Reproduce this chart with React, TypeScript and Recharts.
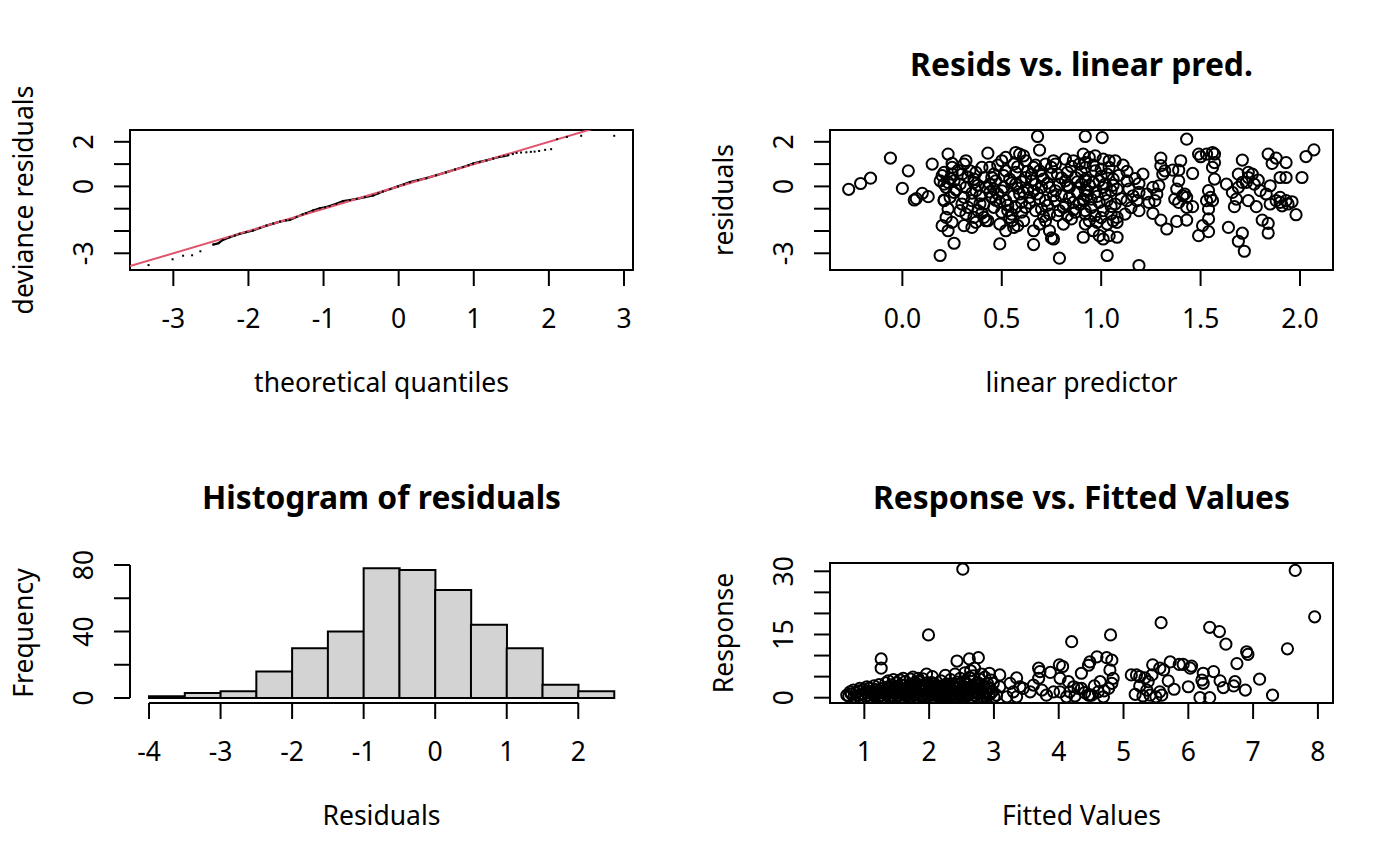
import React from "react";
import {
  Bar, ComposedChart, Line, ReferenceArea, ReferenceLine, Scatter, XAxis, YAxis,
} from "recharts";

// ---------- datos ----------

// QQ: cuantiles teóricos frente a residuos de desviación
const qqTheo = [
  -3.33, -3.01, -2.87, -2.75, -2.64, -2.47, -2.4, -2.34, -2.25, -2.18, -2.12, -2.03, -1.94, -1.85,
  -1.76, -1.67, -1.58, -1.5, -1.45, -1.36, -1.28, -1.23, -1.14, -1.05, -0.98, -0.92, -0.83, -0.74,
  -0.65, -0.56, -0.45, -0.34, -0.27, -0.21, -0.11, -0.01, 0.07, 0.15, 0.26, 0.37, 0.5, 0.63, 0.75,
  0.86, 0.93, 0.99, 1.08, 1.17, 1.26, 1.34, 1.4, 1.46, 1.52, 1.57, 1.63, 1.7, 1.76, 1.81, 1.87,
  1.95, 2.03, 2.11, 2.24, 2.43, 2.87,
];
const qqResid = [
  -3.53, -3.27, -3.11, -3.09, -2.91, -2.61, -2.55, -2.4, -2.28, -2.2, -2.13, -2.05, -1.98, -1.87,
  -1.76, -1.67, -1.58, -1.52, -1.5, -1.37, -1.26, -1.2, -1.08, -0.98, -0.94, -0.88, -0.78, -0.66,
  -0.61, -0.56, -0.48, -0.41, -0.31, -0.23, -0.12, 0.0, 0.09, 0.19, 0.28, 0.37, 0.5, 0.63, 0.76,
  0.87, 0.95, 1.02, 1.1, 1.17, 1.25, 1.32, 1.36, 1.4, 1.45, 1.5, 1.52, 1.53, 1.55, 1.56, 1.59,
  1.64, 1.67, 2.12, 2.22, 2.27, 2.27,
];
const qqRefIntercept = 0;
const qqRefSlope = 1;

// residuos frente a predictor lineal: [predictor, residuo]
const residPts: [number, number][] = [
  [-0.27, -0.13], [-0.21, 0.13], [-0.16, 0.37], [-0.06, 1.27], [0.0, -0.09], [0.03, 0.7], [0.06, -0.61],
  [0.07, -0.55], [0.1, -0.31], [0.13, -0.46], [0.15, 1.0],
  [0.19, -3.1], [0.23, 1.45], [0.26, -2.55], [0.2, -1.76], [0.23, -1.99], [0.21, -0.61], [0.2, 0.48],
  [0.21, 0.63], [0.25, 0.85], [0.25, 0.55], [0.23, 0.18], [0.26, 0.25], [0.22, -0.04], [0.21, -0.64],
  [0.24, -0.49], [0.23, -1.01], [0.22, -1.39], [0.25, -1.61], [0.25, 1.03], [0.19, 0.25], [0.21, 0.1],
  [0.26, -0.27], [0.24, 0.35], [0.27, -0.15], [0.28, 0.72],
  [0.31, 1.0], [0.32, 1.15], [0.3, 0.55], [0.34, 0.7], [0.37, 0.63], [0.29, 0.1], [0.32, -0.04],
  [0.36, 0.18], [0.37, -0.19], [0.31, -0.49], [0.35, -0.64], [0.39, -0.42], [0.29, -1.09], [0.32, -1.24],
  [0.36, -1.39], [0.38, -1.09], [0.31, -1.76], [0.35, -1.84], [0.37, -1.61], [0.41, -1.39], [0.42, -1.54],
  [0.41, -0.79], [0.42, -0.04], [0.41, 0.4], [0.33, -0.94], [0.36, 0.33], [0.4, 0.85], [0.3, -0.79],
  [0.43, 1.49], [0.33, 0.42], [0.35, -0.3], [0.38, 0.05], [0.39, -0.78], [0.4, -1.2],
  [0.44, 0.85], [0.46, 0.55], [0.5, 1.15], [0.52, 1.3], [0.56, 1.0], [0.57, 1.52], [0.59, 1.45],
  [0.44, 0.1], [0.47, 0.25], [0.51, -0.04], [0.54, 0.33], [0.57, 0.1], [0.45, -0.49], [0.48, -0.34],
  [0.52, -0.64], [0.56, -0.42], [0.59, -0.34], [0.46, -0.94], [0.5, -1.16], [0.53, -1.09], [0.57, -0.94],
  [0.43, -1.54], [0.49, -1.69], [0.55, -1.54], [0.56, -1.84], [0.58, -1.76], [0.54, -1.39], [0.52, -1.99],
  [0.46, -0.12], [0.52, 0.7], [0.57, 0.63], [0.49, -0.72], [0.49, -2.58],
  [0.44, -0.25], [0.45, 0.4], [0.47, -0.62], [0.48, 0.95], [0.5, -0.2], [0.51, 0.48], [0.53, -0.85],
  [0.55, 0.15], [0.55, -1.25], [0.58, -0.08], [0.58, 0.88], [0.6, 0.2], [0.6, -1.15],
  [0.61, 1.37], [0.62, 1.15], [0.66, 0.85], [0.69, 0.7], [0.72, 1.0], [0.76, 1.15], [0.62, 0.4],
  [0.65, 0.55], [0.67, 0.1], [0.71, 0.33], [0.74, -0.04], [0.61, -0.27], [0.64, -0.49], [0.68, -0.34],
  [0.72, -0.64], [0.76, -0.42], [0.62, -0.94], [0.67, -1.09], [0.7, -1.01], [0.74, -1.24], [0.61, -1.54],
  [0.66, -1.99], [0.69, -1.69], [0.74, -1.99], [0.76, -2.36], [0.63, -0.12], [0.7, -0.04], [0.6, -0.72],
  [0.75, 0.55], [0.65, 0.25], [0.72, -1.54], [0.68, 2.24], [0.69, 1.63], [0.66, -2.61], [0.75, -2.31],
  [0.63, 0.68], [0.64, -0.75], [0.66, -0.2], [0.67, 0.95], [0.69, -0.55], [0.7, 0.48], [0.71, -1.35],
  [0.73, 0.15], [0.73, -0.85], [0.75, 0.85],
  [0.77, 1.0], [0.82, 1.22], [0.86, 1.15], [0.89, 1.0], [0.92, 1.07], [0.78, 0.55], [0.83, 0.63],
  [0.87, 0.4], [0.92, 0.25], [0.79, 0.1], [0.84, -0.04], [0.88, -0.27], [0.92, -0.19], [0.77, -0.64],
  [0.82, -0.79], [0.86, -0.72], [0.91, -0.57], [0.79, -1.09], [0.83, -1.31], [0.87, -1.16], [0.92, -1.24],
  [0.81, -1.69], [0.92, -1.69], [0.82, 0.25], [0.9, 0.1], [0.85, -1.46], [0.8, -0.42], [0.79, -3.22],
  [0.92, 2.24], [0.91, -2.28],
  [0.77, -0.2], [0.78, -1.3], [0.8, 0.38], [0.81, -0.95], [0.83, 0.05], [0.84, -0.5], [0.85, 0.9],
  [0.86, -1.05], [0.88, 0.2], [0.89, -0.8], [0.9, 0.65],
  [0.91, 1.45], [0.94, 1.3], [0.97, 1.37], [1.01, 1.22], [1.04, 1.15], [1.07, 1.15], [0.92, 0.85],
  [0.97, 0.7], [1.0, 0.78], [1.03, 0.55], [0.92, 0.33], [0.96, 0.18], [0.99, 0.25], [1.02, 0.1],
  [1.06, 0.33], [0.93, -0.19], [0.97, -0.27], [1.01, -0.04], [1.05, -0.19], [1.08, -0.12], [0.91, -0.64],
  [0.95, -0.57], [0.99, -0.72], [1.03, -0.64], [1.07, -0.79], [0.92, -1.09], [0.97, -1.31], [1.01, -1.09],
  [1.05, -1.24], [0.94, -1.54], [0.98, -1.61], [1.03, -1.69], [1.06, -1.54], [0.96, -1.99], [0.99, -2.21],
  [1.04, -2.21], [1.08, -2.28], [1.01, -2.36], [1.005, 2.19], [1.03, -3.1],
  [0.93, -0.4], [0.94, 0.05], [0.95, -0.95], [0.96, 0.95], [0.98, -0.45], [1.0, 0.45], [1.0, -1.4],
  [1.02, -0.35], [1.04, 0.85], [1.05, -0.9], [1.06, 0.05], [1.09, 0.5], [1.1, -0.55], [1.11, 0.95],
  [1.43, 2.12], [1.19, -3.55], [1.13, 0.67], [1.13, 0.25], [1.14, -0.12], [1.13, -0.64], [1.12, -1.24],
  [1.08, -1.39], [1.08, -1.61], [1.16, -0.42], [1.21, 0.55], [1.19, 0.13], [1.19, -0.27], [1.18, -0.64],
  [1.19, -1.09], [1.23, -0.34], [1.24, -0.72], [1.26, -0.04], [1.3, 1.27], [1.3, 0.93], [1.31, 0.55],
  [1.29, 0.03], [1.28, -0.34], [1.27, -0.64], [1.26, -1.21], [1.3, -1.51], [1.33, -1.91], [1.32, 0.7],
  [1.36, 0.73], [1.39, 0.73], [1.4, 1.15], [1.39, 0.25], [1.38, -0.12], [1.41, -0.42], [1.39, -0.72],
  [1.37, -0.57], [1.43, -0.94], [1.43, -1.51], [1.38, -1.57], [1.43, -0.49], [1.42, -0.34],
  [1.15, -0.95], [1.17, 0.35],
  [1.46, 0.58], [1.46, -0.91], [1.49, 1.45], [1.5, 1.33], [1.53, 1.45], [1.56, 1.52], [1.57, 1.45],
  [1.57, 1.07], [1.56, 0.85], [1.57, 0.33], [1.54, -0.19], [1.55, -0.49], [1.53, -0.64], [1.56, -0.64],
  [1.54, -1.01], [1.54, -1.46], [1.51, -1.76], [1.54, -2.03], [1.49, -2.21], [1.63, 0.1], [1.66, -0.27],
  [1.68, -0.57], [1.69, -0.04], [1.64, -1.84], [1.67, -0.91], [1.69, 0.55], [1.69, -2.46],
  [1.71, 1.18], [1.71, 0.18], [1.73, 0.18], [1.74, 0.63], [1.74, 0.4], [1.76, 0.55], [1.74, -0.64],
  [1.77, 0.1], [1.78, -0.91], [1.79, 0.28], [1.8, -0.19], [1.71, -2.1], [1.72, -2.91], [1.81, -1.51],
  [1.83, -0.34], [1.84, 1.45], [1.84, -1.66], [1.84, -2.09], [1.85, 0.03], [1.85, -0.79], [1.86, 1.03],
  [1.88, 1.27], [1.88, -0.64], [1.9, 0.4], [1.9, -0.72], [1.9, -0.49], [1.91, -0.87], [1.93, 1.07],
  [1.93, 0.4], [1.93, -0.64], [1.94, -0.79], [1.96, -0.69], [1.98, -1.27], [2.01, 0.4], [2.03, 1.34],
  [2.07, 1.64],
];

// histograma de residuos (intervalos de 0.5)
const histMids = [-3.75, -3.25, -2.75, -2.25, -1.75, -1.25, -0.75, -0.25, 0.25, 0.75, 1.25, 1.75, 2.25];
const histCounts = [1, 3, 4, 16, 30, 40, 78, 77, 65, 44, 30, 8, 4];

// respuesta frente a valores ajustados: [ajustado, respuesta]
const respPts: [number, number][] = [
  [0.73, 0.6], [0.76, 0.4], [0.78, 1.4], [0.8, 0.9], [0.83, 1.8], [0.84, 0.2], [0.87, 1.1], [0.9, 0.5],
  [0.92, 1.6], [0.93, 2.2], [0.95, 0.1], [0.97, 0.8], [0.99, 1.9],
  [1.02, 0.3], [1.04, 2.6], [1.04, 1.2], [1.06, 0.6], [1.08, 2.3], [1.1, 0.1], [1.11, 1.5], [1.13, 0.8],
  [1.15, 2.8], [1.16, 0.3], [1.18, 1.9], [1.2, 1.0], [1.22, 0.2], [1.23, 3.1], [1.25, 1.4], [1.26, 7.0],
  [1.26, 9.2], [1.27, 0.6], [1.29, 2.2], [1.3, 0.1], [1.21, 1.5], [1.24, 0.5], [1.28, 1.2],
  [1.32, 1.7], [1.33, 3.5], [1.35, 0.8], [1.37, 4.0], [1.37, 2.6], [1.38, 0.2], [1.4, 1.3], [1.42, 3.0],
  [1.43, 0.6], [1.45, 2.0], [1.45, 4.3], [1.47, 0.1], [1.48, 1.1], [1.5, 3.6], [1.52, 2.4], [1.53, 0.5],
  [1.55, 4.2], [1.55, 1.6], [1.57, 3.0], [1.58, 0.2], [1.6, 2.1], [1.6, 4.6],
  [1.34, 2.1], [1.36, 1.0], [1.41, 0.5], [1.44, 1.4], [1.49, 2.7], [1.51, 0.4], [1.54, 1.1], [1.59, 1.4],
  [1.62, 0.9], [1.63, 3.8], [1.65, 1.5], [1.67, 0.3], [1.68, 2.7], [1.7, 1.2], [1.71, 4.4], [1.72, 0.1],
  [1.73, 3.3], [1.75, 1.9], [1.75, 4.9], [1.77, 0.7], [1.78, 2.5], [1.8, 0.2], [1.82, 1.4], [1.83, 4.6],
  [1.83, 3.9], [1.85, 2.2], [1.87, 0.5], [1.88, 1.7], [1.9, 3.0], [1.9, 4.5],
  [1.61, 2.9], [1.64, 0.6], [1.66, 2.2], [1.69, 0.8], [1.74, 1.4], [1.76, 2.9], [1.79, 1.0], [1.81, 3.3],
  [1.84, 0.9], [1.86, 2.6], [1.89, 0.3],
  [1.92, 0.1], [1.93, 2.4], [1.95, 1.0], [1.96, 5.6], [1.97, 3.5], [1.98, 0.4], [1.99, 14.9], [2.0, 1.9],
  [2.02, 2.8], [2.03, 0.8], [2.05, 1.4], [2.05, 5.0], [2.07, 0.1], [2.08, 3.2], [2.1, 2.0], [2.12, 0.6],
  [2.13, 1.3], [2.15, 2.7], [2.17, 0.2], [2.18, 4.0], [2.2, 1.6],
  [1.91, 1.8], [1.94, 3.0], [1.99, 1.2], [2.01, 2.4], [2.04, 3.6], [2.06, 0.6], [2.09, 1.6], [2.11, 2.9],
  [2.14, 0.4], [2.16, 1.9], [2.19, 2.6],
  [2.22, 0.9], [2.23, 2.4], [2.25, 0.3], [2.25, 5.3], [2.27, 3.3], [2.28, 1.7], [2.3, 0.6], [2.32, 2.2],
  [2.33, 4.3], [2.35, 1.1], [2.37, 0.1], [2.38, 2.9], [2.4, 1.5], [2.4, 5.6], [2.42, 0.4], [2.43, 3.7],
  [2.43, 8.7], [2.45, 2.1], [2.47, 0.8], [2.48, 4.6],
  [2.21, 0.3], [2.24, 1.3], [2.26, 2.0], [2.29, 2.8], [2.31, 0.2], [2.34, 1.6], [2.36, 3.0], [2.39, 0.8],
  [2.41, 2.5], [2.44, 1.0], [2.46, 3.2], [2.49, 0.5],
  [2.5, 1.3], [2.52, 0.2], [2.52, 30.5], [2.53, 2.6], [2.55, 3.9], [2.55, 5.9], [2.57, 1.0], [2.58, 0.4],
  [2.6, 2.3], [2.62, 4.8], [2.62, 9.2], [2.63, 1.6], [2.64, 6.4], [2.65, 0.1], [2.67, 3.0], [2.68, 5.2],
  [2.7, 1.2], [2.7, 7.0], [2.72, 0.5], [2.73, 2.0], [2.75, 3.6], [2.76, 9.5], [2.77, 0.9], [2.78, 4.4],
  [2.51, 2.0], [2.54, 1.4], [2.56, 3.2], [2.59, 1.8], [2.61, 0.8], [2.66, 2.2], [2.69, 0.6], [2.71, 3.1],
  [2.74, 1.4],
  [2.8, 1.8], [2.81, 5.6], [2.82, 0.3], [2.84, 2.7], [2.86, 4.9], [2.88, 1.2], [2.9, 3.4], [2.92, 0.6],
  [2.93, 5.8], [2.94, 2.1], [2.96, 4.2], [2.98, 1.5], [2.99, 3.4], [3.0, 0.2],
  [2.79, 2.4], [2.83, 1.0], [2.87, 0.4], [2.91, 2.5], [2.95, 1.0],
  [3.04, 0.6], [3.09, 2.6], [3.09, 5.4], [3.2, 0.2], [3.25, 3.4], [3.3, 1.4], [3.35, 4.7], [3.35, 0.2],
  [3.4, 2.6], [3.45, 2.2], [3.56, 1.4], [3.61, 3.0], [3.69, 4.6], [3.69, 7.0], [3.71, 6.2], [3.74, 1.8],
  [3.81, 0.6], [3.87, 6.0], [3.92, 1.4], [4.01, 7.8], [4.02, 4.6], [4.02, 1.4], [4.06, 7.4], [4.12, 0.2],
  [4.15, 3.8], [4.17, 1.4], [4.2, 13.3], [4.23, 2.6], [4.25, 0.4], [4.3, 2.2],
  [4.35, 5.8], [4.35, 2.2], [4.4, 1.2], [4.46, 0.6], [4.46, 7.7], [4.48, 8.5], [4.48, 0.6], [4.51, 0.6],
  [4.55, 2.8], [4.59, 9.7], [4.61, 1.4], [4.64, 3.8], [4.69, 0.2], [4.7, 1.6], [4.74, 9.5], [4.77, 2.2],
  [4.79, 6.6], [4.8, 14.9], [4.82, 8.9], [4.82, 3.4], [4.84, 4.6],
  [5.12, 5.4], [5.18, 0.8], [5.2, 5.4], [5.25, 5.0], [5.25, 2.8], [5.3, 0.4], [5.33, 4.7], [5.36, 1.8],
  [5.38, 3.8], [5.41, 0.6], [5.44, 5.4], [5.45, 7.8], [5.5, 0.2], [5.56, 7.0], [5.56, 1.4], [5.58, 17.8],
  [5.59, 0.6], [5.62, 6.6], [5.69, 4.0], [5.72, 8.5], [5.78, 2.0], [5.86, 7.9], [5.92, 7.9], [6.0, 2.6],
  [6.03, 7.0], [6.05, 7.5], [6.18, 0.0], [6.21, 4.2], [6.23, 5.8], [6.23, 3.4], [6.33, 0.0], [6.33, 16.7],
  [6.39, 6.2], [6.48, 15.7], [6.49, 4.0], [6.54, 2.4], [6.58, 12.7], [6.7, 2.8], [6.72, 3.8], [6.75, 8.1],
  [6.88, 1.8], [6.9, 10.9], [6.92, 10.3], [7.1, 4.4], [7.3, 0.6], [7.53, 11.6], [7.65, 30.2], [7.95, 19.2],
];

// ticks y etiquetas visibles (R omite las que se solapan)
const qqXTicks = [-3, -2, -1, 0, 1, 2, 3];
const residYTicks = [-3, -2, -1, 0, 1, 2];
const residYLabels = [-3, 0, 2];
const lpTicks = [0, 0.5, 1, 1.5, 2];
const histXTicks = [-4, -3, -2, -1, 0, 1, 2];
const histYTicks = [0, 20, 40, 60, 80];
const histYLabels = [0, 40, 80];
const fvTicks = [1, 2, 3, 4, 5, 6, 7, 8];
const respTicks = [0, 5, 10, 15, 20, 25, 30];
const respLabels = [0, 15, 30];

// ---------- estilo ----------
const FONT = "'Noto Sans', 'Open Sans', sans-serif";
const LABEL_PX = 26.5;
const TITLE_PX = 31.8;
const W = 700;
const H = 433;
const Y_W = 60;
const X_H = 40;
// área de trazado en cada panel: x 130..633, y 130..270
const MARGIN = { top: 130, right: 67, left: 130 - Y_W, bottom: H - 270 - X_H };
const LW = 2;
const RED = "#DF536B";

const QQ_X: [number, number] = [-3.577, 3.12];
const RES_Y: [number, number] = [-3.75, 2.53];
const LP_X: [number, number] = [-0.364, 2.166];
const HIST_X: [number, number] = [-4.266, 2.765];
const HIST_Y: [number, number] = [-3.0, 81.2];
const FV_X: [number, number] = [0.47, 8.233];
const RESP_Y: [number, number] = [-1.26, 31.97];

const has = (list: number[], v: number) => list.some((s) => Math.abs(s - v) < 1e-9);

const xTick = (shown: number[], fmt: (v: number) => string = String) => (p: any) => {
  const v = p.payload.value;
  if (!has(shown, v)) return <g />;
  return (
    <text x={p.x} y={p.y + 42} textAnchor="middle" fontFamily={FONT} fontSize={LABEL_PX} fill="#000">
      {fmt(v)}
    </text>
  );
};

const yTick = (shown: number[]) => (p: any) => {
  const v = p.payload.value;
  if (!has(shown, v)) return <g />;
  const bx = p.x - 21;
  return (
    <text x={bx} y={p.y} transform={`rotate(-90 ${bx} ${p.y})`} textAnchor="middle"
      fontFamily={FONT} fontSize={LABEL_PX} fill="#000">
      {String(v)}
    </text>
  );
};

const axisBase = {
  type: "number" as const,
  allowDataOverflow: true,
  axisLine: false,
  tickLine: { stroke: "#000", strokeWidth: LW },
  tickSize: 16,
  tickMargin: 0,
  interval: 0 as const,
};

const ring = (p: any) => (
  <circle cx={p.cx} cy={p.cy} r={5.6} fill="none" stroke="#000" strokeWidth={2} />
);
const dot = (p: any) => <rect x={p.cx - 1} y={p.cy - 1} width={2} height={2} fill="#000" />;

const box = (x: [number, number], y: [number, number]) => (
  <ReferenceArea x1={x[0]} x2={x[1]} y1={y[0]} y2={y[1]} fill="none" fillOpacity={0}
    stroke="#000" strokeWidth={LW} ifOverflow="visible" />
);

const pos = (left: number, top: number): React.CSSProperties => ({ position: "absolute", left, top });

export default function App() {
  const qqPts = qqTheo.map((x, i) => ({ x, y: qqResid[i] }));
  const qqDense = qqPts.filter((d) => d.x > -2.5 && d.x < 1.5);
  const r = (x: number) => qqRefIntercept + qqRefSlope * x;
  const residRows = residPts.map(([x, y]) => ({ x, y }));
  const histRows = histMids.map((x, i) => ({ x, n: histCounts[i] }));
  const respRows = respPts.map(([x, y]) => ({ x, y }));

  const txt = { fontFamily: FONT, fontSize: LABEL_PX, fill: "#000", textAnchor: "middle" as const };
  const ttl = { ...txt, fontSize: TITLE_PX, fontWeight: 700 };

  return (
    <div style={{ position: "absolute", left: 0, top: 0, width: 1400, height: 866, background: "#fff" }}>
      {/* QQ */}
      <div style={pos(0, 0)}>
        <ComposedChart width={W} height={H} margin={MARGIN}>
          <XAxis {...axisBase} dataKey="x" domain={QQ_X} ticks={qqXTicks} height={X_H} tick={xTick(qqXTicks)} />
          <YAxis {...axisBase} dataKey="y" domain={RES_Y} ticks={residYTicks} width={Y_W} tick={yTick(residYLabels)} />
          {box(QQ_X, RES_Y)}
          <Line data={qqDense} dataKey="y" type="linear" stroke="#000" strokeWidth={2.2} dot={false}
            isAnimationActive={false} />
          <Scatter data={qqPts} dataKey="y" shape={dot} isAnimationActive={false} />
          <ReferenceLine segment={[{ x: QQ_X[0], y: r(QQ_X[0]) }, { x: 2.6, y: r(2.6) }]}
            stroke={RED} strokeWidth={2} ifOverflow="hidden" />
        </ComposedChart>
      </div>

      {/* residuos vs predictor lineal */}
      <div style={pos(700, 0)}>
        <ComposedChart width={W} height={H} margin={MARGIN}>
          <XAxis {...axisBase} dataKey="x" domain={LP_X} ticks={lpTicks} height={X_H}
            tick={xTick(lpTicks, (v) => v.toFixed(1))} />
          <YAxis {...axisBase} dataKey="y" domain={RES_Y} ticks={residYTicks} width={Y_W} tick={yTick(residYLabels)} />
          {box(LP_X, RES_Y)}
          <Scatter data={residRows} dataKey="y" shape={ring} isAnimationActive={false} />
        </ComposedChart>
      </div>

      {/* histograma */}
      <div style={pos(0, 433)}>
        <ComposedChart width={W} height={H} margin={MARGIN} data={histRows} barCategoryGap={0} barGap={0}>
          <XAxis {...axisBase} dataKey="x" domain={HIST_X} ticks={histXTicks} height={X_H} tick={xTick(histXTicks)} />
          <YAxis {...axisBase} domain={HIST_Y} ticks={histYTicks} width={Y_W} tick={yTick(histYLabels)} />
          <Bar dataKey="n" fill="#D3D3D3" stroke="#000" strokeWidth={LW} isAnimationActive={false} />
          <ReferenceLine segment={[{ x: -4, y: HIST_Y[0] }, { x: 2, y: HIST_Y[0] }]}
            stroke="#000" strokeWidth={LW} ifOverflow="visible" />
          <ReferenceLine segment={[{ x: HIST_X[0], y: 0 }, { x: HIST_X[0], y: 80 }]}
            stroke="#000" strokeWidth={LW} ifOverflow="visible" />
        </ComposedChart>
      </div>

      {/* respuesta vs ajustados */}
      <div style={pos(700, 433)}>
        <ComposedChart width={W} height={H} margin={MARGIN}>
          <XAxis {...axisBase} dataKey="x" domain={FV_X} ticks={fvTicks} height={X_H} tick={xTick(fvTicks)} />
          <YAxis {...axisBase} dataKey="y" domain={RESP_Y} ticks={respTicks} width={Y_W} tick={yTick(respLabels)} />
          {box(FV_X, RESP_Y)}
          <Scatter data={respRows} dataKey="y" shape={ring} isAnimationActive={false} />
        </ComposedChart>
      </div>

      {/* títulos y rótulos de ejes */}
      <svg width={1400} height={866} style={{ position: "absolute", left: 0, top: 0, pointerEvents: "none" }}>
        <text {...ttl} x={1081.5} y={76}>Resids vs. linear pred.</text>
        <text {...ttl} x={381.5} y={509}>Histogram of residuals</text>
        <text {...ttl} x={1081.5} y={509}>Response vs. Fitted Values</text>

        <text {...txt} x={381.5} y={392}>theoretical quantiles</text>
        <text {...txt} x={1081.5} y={392}>linear predictor</text>
        <text {...txt} x={381.5} y={825}>Residuals</text>
        <text {...txt} x={1081.5} y={825}>Fitted Values</text>

        <text {...txt} x={33} y={200} transform="rotate(-90 33 200)">deviance residuals</text>
        <text {...txt} x={733} y={200} transform="rotate(-90 733 200)">residuals</text>
        <text {...txt} x={33} y={633} transform="rotate(-90 33 633)">Frequency</text>
        <text {...txt} x={733} y={633} transform="rotate(-90 733 633)">Response</text>
      </svg>
    </div>
  );
}
